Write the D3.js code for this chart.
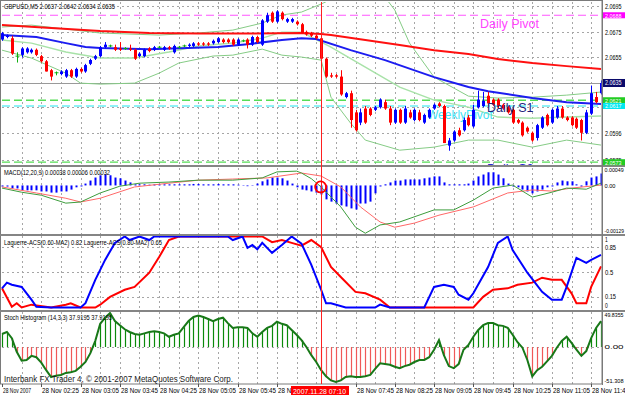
<!DOCTYPE html>
<html>
<head>
<meta charset="utf-8"/>
<title>GBPUSD M5</title>
<script src="https://d3js.org/d3.v7.min.js"></script>
<style>
  body { margin: 0; background: #fff; }
  svg { display: block; font-family: "Liberation Sans", Arial, sans-serif; }
</style>
</head>
<body>
<svg id="chart" width="625" height="395"></svg>
<script>
// candles, one per M5 bar from 01:45 to 11:55: [open, high, low, close]
const candles = [
  [2.0669,2.0675,2.0668,2.0674],[2.0671,2.0673,2.0670,2.0672],[2.0670,2.0672,2.0657,2.0658],[2.0656,2.0659,2.0651,2.0656],
  [2.0657,2.0663,2.0655,2.0662],[2.0659,2.0663,2.0658,2.0662],[2.0659,2.0662,2.0658,2.0661],[2.0661,2.0662,2.0656,2.0657],
  [2.0656,2.0657,2.0651,2.0652],[2.0652,2.0653,2.0644,2.0644],[2.0645,2.0646,2.0637,2.0640],[2.0643,2.0644,2.0641,2.0643],
  [2.0642,2.0645,2.0641,2.0644],[2.0640,2.0646,2.0639,2.0645],[2.0645,2.0646,2.0639,2.0640],[2.0640,2.0647,2.0639,2.0646],
  [2.0646,2.0647,2.0643,2.0644],[2.0644,2.0650,2.0643,2.0649],[2.0650,2.0654,2.0649,2.0653],[2.0654,2.0657,2.0653,2.0656],
  [2.0656,2.0664,2.0655,2.0663],[2.0663,2.0667,2.0662,2.0665],[2.0664,2.0665,2.0663,2.0664],[2.0663,2.0665,2.0660,2.0661],
  [2.0662,2.0667,2.0660,2.0661],[2.0662,2.0663,2.0661,2.0662],[2.0662,2.0665,2.0660,2.0661],[2.0661,2.0662,2.0653,2.0654],
  [2.0656,2.0659,2.0655,2.0658],[2.0656,2.0662,2.0655,2.0661],[2.0662,2.0663,2.0659,2.0660],[2.0661,2.0664,2.0660,2.0663],
  [2.0663,2.0664,2.0662,2.0663],[2.0661,2.0664,2.0660,2.0663],[2.0663,2.0664,2.0661,2.0662],[2.0659,2.0665,2.0658,2.0664],
  [2.0663,2.0664,2.0662,2.0663],[2.0664,2.0665,2.0663,2.0664],[2.0664,2.0666,2.0663,2.0665],[2.0664,2.0667,2.0663,2.0666],
  [2.0666,2.0667,2.0664,2.0665],[2.0666,2.0667,2.0664,2.0665],[2.0666,2.0667,2.0664,2.0665],[2.0666,2.0669,2.0665,2.0668],
  [2.0667,2.0671,2.0666,2.0670],[2.0669,2.0670,2.0666,2.0667],[2.0669,2.0670,2.0666,2.0667],[2.0669,2.0670,2.0664,2.0665],
  [2.0665,2.0670,2.0664,2.0669],[2.0668,2.0669,2.0667,2.0668],[2.0669,2.0670,2.0662,2.0665],[2.0665,2.0672,2.0664,2.0671],
  [2.0671,2.0672,2.0666,2.0667],[2.0665,2.0685,2.0664,2.0684],[2.0683,2.0690,2.0682,2.0688],[2.0690,2.0691,2.0682,2.0683],
  [2.0683,2.0692,2.0682,2.0691],[2.0690,2.0691,2.0684,2.0685],[2.0683,2.0686,2.0682,2.0685],[2.0683,2.0686,2.0682,2.0685],
  [2.0683,2.0684,2.0680,2.0681],[2.0681,2.0682,2.0674,2.0674],[2.0675,2.0676,2.0672,2.0673],[2.0674,2.0675,2.0671,2.0672],
  [2.0672,2.0673,2.0669,2.0670],[2.0670,2.0671,2.0653,2.0654],[2.0654,2.0655,2.0639,2.0640],[2.0641,2.0643,2.0639,2.0640],
  [2.0641,2.0642,2.0639,2.0640],[2.0640,2.0645,2.0625,2.0626],[2.0624,2.0628,2.0623,2.0627],[2.0627,2.0629,2.0600,2.0606],
  [2.0612,2.0614,2.0597,2.0598],[2.0604,2.0615,2.0602,2.0612],[2.0615,2.0617,2.0603,2.0604],[2.0615,2.0616,2.0609,2.0610],
  [2.0614,2.0617,2.0613,2.0616],[2.0616,2.0623,2.0615,2.0622],[2.0620,2.0622,2.0614,2.0615],[2.0615,2.0617,2.0602,2.0604],
  [2.0604,2.0615,2.0603,2.0614],[2.0614,2.0615,2.0603,2.0604],[2.0604,2.0617,2.0603,2.0615],[2.0612,2.0614,2.0607,2.0608],
  [2.0606,2.0615,2.0605,2.0614],[2.0612,2.0614,2.0605,2.0606],[2.0604,2.0611,2.0603,2.0610],[2.0608,2.0615,2.0607,2.0614],
  [2.0615,2.0619,2.0614,2.0618],[2.0619,2.0620,2.0616,2.0617],[2.0617,2.0618,2.0588,2.0588],[2.0586,2.0592,2.0582,2.0590],
  [2.0590,2.0598,2.0589,2.0597],[2.0598,2.0600,2.0593,2.0594],[2.0598,2.0608,2.0597,2.0606],[2.0608,2.0610,2.0601,2.0602],
  [2.0601,2.0618,2.0600,2.0614],[2.0616,2.0629,2.0615,2.0622],[2.0617,2.0628,2.0616,2.0621],[2.0625,2.0628,2.0617,2.0619],
  [2.0622,2.0623,2.0617,2.0618],[2.0622,2.0623,2.0615,2.0617],[2.0618,2.0619,2.0614,2.0615],[2.0616,2.0617,2.0611,2.0612],
  [2.0614,2.0615,2.0603,2.0604],[2.0606,2.0607,2.0603,2.0604],[2.0604,2.0605,2.0593,2.0594],[2.0600,2.0601,2.0596,2.0597],
  [2.0596,2.0597,2.0589,2.0590],[2.0592,2.0603,2.0590,2.0602],[2.0600,2.0609,2.0599,2.0608],[2.0610,2.0611,2.0601,2.0602],
  [2.0604,2.0615,2.0603,2.0614],[2.0608,2.0617,2.0607,2.0615],[2.0615,2.0617,2.0607,2.0608],[2.0608,2.0609,2.0605,2.0606],
  [2.0608,2.0609,2.0601,2.0602],[2.0607,2.0608,2.0599,2.0600],[2.0606,2.0607,2.0590,2.0596],[2.0596,2.0614,2.0595,2.0612],
  [2.0611,2.0633,2.0610,2.0627],[2.0624,2.0628,2.0619,2.0620],[2.0627,2.0637,2.0626,2.0635]
];

// moving averages and bollinger bands, read at bar indexes
const slowMaBars = [0,10,20,30,40,50,61,65,67,74,81,88,95,101,108,115,122];
const slowMa = [2.06803,2.06780,2.06756,2.06741,2.06737,2.06737,2.06741,2.06733,2.06725,2.06686,2.06647,2.06607,2.06576,2.06537,2.06506,2.06482,2.06459];
const fastMaBars = [0,7,13,17,20,30,44,50,57,61,64,71,78,88,95,99,108,115,122];
const fastMa = [2.06725,2.06709,2.06662,2.06631,2.06623,2.06615,2.06631,2.06654,2.06686,2.06701,2.06694,2.06607,2.06529,2.06396,2.06318,2.06286,2.06232,2.06200,2.06185];
const bandUpBars = [0,6,13,20,32,40,47,53,57,61,65,68,73,78,80,83,88,95,101,108,115,122];
const bandUp = [2.06788,2.06803,2.06772,2.06741,2.06725,2.06741,2.06764,2.06819,2.06882,2.06905,2.06968,2.07022,2.07062,2.07022,2.06921,2.06662,2.06396,2.06247,2.06232,2.06239,2.06255,2.06279];
const bandMidBars = [0,6,13,20,27,34,40,47,53,57,61,67,74,81,88,95,101,108,115,122];
const bandMid = [2.06686,2.06662,2.06592,2.06545,2.06545,2.06592,2.06639,2.06662,2.06701,2.06748,2.06748,2.06631,2.06474,2.06318,2.06216,2.06161,2.06083,2.06075,2.06083,2.06091];
const bandLowBars = [0,6,13,16,20,27,32,36,43,47,53,57,61,65,67,71,74,81,88,95,101,108,115,122];
const bandLow = [2.06607,2.06545,2.06427,2.06349,2.06341,2.06349,2.06427,2.06506,2.06561,2.06568,2.06615,2.06568,2.06553,2.06529,2.06239,2.06036,2.05903,2.05824,2.05848,2.05903,2.05903,2.05848,2.05903,2.05864];

// horizontal levels drawn on the price chart
const levelPrices = [2.0688, 2.06215, 2.0617, 2.0573];
const levelColors = ["#ff55ff", "#55dd55", "#22e6f0", "#55dd55"];
const levelBoxText = ["2.0688", "2.0621", "2.0617", "2.0573"];
const levelBoxFill = ["#ff00ff", "#22cc22", "#00e8f0", "#22cc22"];
const bidPrice = 2.0635;

const priceTicks = [2.0695, 2.0675, 2.0655, 2.0635, 2.0616, 2.0596, 2.0575];
const priceTickLabels = ["2.0695", "2.0675", "2.0655", "", "", "2.0596", "2.0575"];

// MACD (values in 0.00001)
const macdHist = [
  -3,-3,-8,-8,-13,-13,-13,-13,-16,-16, -19,-19,-16,-16,-11,-5,0,5,13,21,
  27,29,27,21,19,13,8,3,3,3, 2,3,3,3,3,3,3,3,3,4, 4,3,3,3,4,3,3,3,2,1,
  -2,-1,5,11,16,21,21,19,13,5, -5,-11,-13,-16,-19,-24,-37,-43,-48,-53,
  -56,-61,-64,-48,-48,-43,-21,0,3,8, 13,13,16,16,16,16,19,21,24,24,
  8,3,3,3,3,5,13,24,29,35, 35,29,19,5,-3,-5,-11,-16,-21,-16,
  -11,-5,0,8,13,11,11,3,-3,11, 21,24,32
];
const macdMainBars = [0,4,8,13,16,20,24,28,34,40,47,53,56,60,61,63,65,69,72,74,77,81,88,92,96,100,104,108,112,115,119,122];
const macdMain = [-7,-18,-26,-47,-44,-20,-2,6,9,14,14,20,36,38,33,18,-4,-57,-111,-127,-105,-97,-65,-65,-39,-7,1,-31,-18,-7,-10,6];
const macdSignalBars = [0,7,13,16,20,27,34,40,47,54,61,65,69,73,77,80,84,89,96,103,108,112,116,122];
const macdSignal = [-4,-20,-34,-44,-34,-4,6,14,17,20,33,25,-4,-57,-97,-111,-100,-79,-57,-20,-12,-15,-7,1];
const macdTicks = [49, 0, -129];
const macdTickLabels = ["0.00049", "0.00", "-0.00129"];

// Laguerre ACS
const lagFastBars = [0,1,2,4,6,7,10,16,17,19,21,23,25,26,28,30,31,46,47,49,50,51,52,53,55,57,59,61,63,65,66,67,70,76,77,79,86,88,90,92,93,95,96,99,101,103,104,107,110,112,114,115,117,119,120,122];
const lagFast = [0.27,0.35,0.32,0.29,0.11,0.01,0,0,0.06,0.39,0.67,0.91,1,0.95,1,0.95,1,1,0.95,1,0.84,0.88,0.82,0.91,0.77,0.88,1,0.9,0.6,0.25,0.06,0.06,0,0,0.04,0,0,0.29,0.32,0.29,0.18,0.11,0.2,0.57,0.91,1,0.81,0.49,0.22,0.11,0.11,0.29,0.7,0.63,0.67,0.74];
const lagSlowBars = [0,2,3,4,6,10,13,14,16,19,20,22,25,27,30,32,34,36,53,55,57,59,61,63,65,67,69,72,74,77,79,96,98,100,103,105,108,110,112,114,116,117,119,120,122];
const lagSlow = [0.27,0.01,0.06,0,0.04,0,0.04,0.06,0,0,0.04,0.15,0.25,0.29,0.49,0.71,0.95,1,1,0.92,0.95,0.91,0.87,0.95,0.85,0.57,0.43,0.22,0.2,0.11,0,0,0.15,0.25,0.27,0.32,0.35,0.42,0.39,0.39,0.2,0.06,0.06,0.29,0.58];
const lagTicks = [1, 0.85, 0.5, 0.15, 0];
const lagTickLabels = ["1", "0.85", "0.5", "0.15", "0"];

// Stoch histogram
const stochHist = [
  19,22,13,-7,-20,-19,-13,-15,-23,-34, -44,-42,-41,-38,-37,-35,-29,-22,-9,9,
  34,43,49.8,38,32,26,22,19,18,20, 22,23,22,20,15,18,20,29,38,44,
  46,44,41,38,41,43,35,28,29,29, 28,20,15,22,28,31,37,34,32,25,
  18,10,0,-12,-22,-34,-43,-49,-51.3,-49, -44,-43,-44,-44,-43,-41,-32,-24,-25,-26,
  -29,-31,-28,-26,-22,-19,-19,-15,-4,10, -12,-28,-31,-25,-4,3,15,25,32,35,
  35,32,31,28,18,7,-1,-19,-43,-34, -29,-21,-13,-1,9,15,6,-4,-13,-6,
  13,28,37.92
];
const stochTicks = [49.8355, 0, -51.308];
const stochTickLabels = ["49.8355", "0.00", "-51.308"];

// time axis, one label every 8 bars
const timeLabels = ["28 Nov 2007","28 Nov 02:25","28 Nov 03:05","28 Nov 03:45","28 Nov 04:25","28 Nov 05:05",
  "28 Nov 05:45","28 Nov 06:25","28 Nov 07:05","28 Nov 07:45","28 Nov 08:25","28 Nov 09:05","28 Nov 09:45",
  "28 Nov 10:25","28 Nov 11:05","28 Nov 11:45"];
const markerBar = 65;
const markerLabel = "2007.11.28 07:10";

const svg = d3.select("#chart");
const plotR = 602;

const x = d3.scaleLinear().domain([0, 122]).range([2, 601]);
const yPrice = d3.scaleLinear().domain([2.05716, 2.06976]).range([164, 3]);
const yMacd = d3.scaleLinear().domain([-129, 49]).range([234, 167]);
const yLag = d3.scaleLinear().domain([0, 1]).range([307.5, 236.5]);
const yStoch = d3.scaleLinear().domain([-51.308, 49.8355]).range([382, 313]);

const panels = [
  {id: "cMain", top: 2, bottom: 165},
  {id: "cMacd", top: 168, bottom: 234},
  {id: "cLag", top: 236, bottom: 310},
  {id: "cStoch", top: 312, bottom: 384}
];
const defs = svg.append("defs");
panels.forEach(p => {
  defs.append("clipPath").attr("id", p.id)
    .append("rect").attr("x", 1).attr("y", p.top).attr("width", plotR - 1).attr("height", p.bottom - p.top);
});

// marker box on the time axis hides the labels under it
const mx = Math.round(x(markerBar));
const boxL = mx - 30, boxR = mx + 28;
defs.append("clipPath").attr("id", "cTime")
  .append("rect").attr("x", 0).attr("y", 384).attr("width", boxL).attr("height", 11);

svg.append("rect").attr("width", 625).attr("height", 395).attr("fill", "#fff");

// grid
const grid = svg.append("g").attr("stroke", "#a6a6a6").attr("stroke-dasharray", "2,3").attr("stroke-width", 1);
d3.range(4, 123, 4).forEach(b => {
  panels.forEach(p => {
    grid.append("line").attr("x1", Math.round(x(b)) + 0.5).attr("x2", Math.round(x(b)) + 0.5)
      .attr("y1", p.top).attr("y2", p.bottom);
  });
});
priceTicks.forEach(v => {
  grid.append("line").attr("x1", 2).attr("x2", plotR).attr("y1", Math.round(yPrice(v)) + 0.5).attr("y2", Math.round(yPrice(v)) + 0.5);
});
[0.85, 0.5, 0.15].forEach(v => {
  grid.append("line").attr("x1", 2).attr("x2", plotR).attr("y1", Math.round(yLag(v)) + 0.5).attr("y2", Math.round(yLag(v)) + 0.5);
});
grid.append("line").attr("x1", 2).attr("x2", plotR).attr("y1", Math.round(yStoch(0)) + 0.5).attr("y2", Math.round(yStoch(0)) + 0.5);

// ---- main price window ----
const main = svg.append("g").attr("clip-path", "url(#cMain)");

const lineOf = (bars, vals, ys) => d3.line().x((d, i) => x(bars[i])).y(d => ys(d))(vals);

// pivot levels
levelPrices.forEach((v, i) => {
  main.append("line").attr("x1", 2).attr("x2", plotR).attr("y1", yPrice(v)).attr("y2", yPrice(v))
    .attr("stroke", levelColors[i]).attr("stroke-width", i === 1 ? 1.5 : 1.2).attr("stroke-dasharray", "8,4");
});
// bid line
main.append("line").attr("x1", 2).attr("x2", plotR).attr("y1", Math.round(yPrice(bidPrice)) + 0.5)
  .attr("y2", Math.round(yPrice(bidPrice)) + 0.5).attr("stroke", "#9a9a9a").attr("stroke-width", 1);

// bollinger
main.append("path").attr("d", lineOf(bandUpBars, bandUp, yPrice)).attr("fill", "none").attr("stroke", "#86cc86").attr("stroke-width", 1);
main.append("path").attr("d", lineOf(bandMidBars, bandMid, yPrice)).attr("fill", "none").attr("stroke", "#a8e2a8").attr("stroke-width", 1.5);
main.append("path").attr("d", lineOf(bandLowBars, bandLow, yPrice)).attr("fill", "none").attr("stroke", "#86cc86").attr("stroke-width", 1);

// moving averages
main.append("path").attr("d", lineOf(slowMaBars, slowMa, yPrice)).attr("fill", "none").attr("stroke", "#ff1010").attr("stroke-width", 2);
main.append("path").attr("d", lineOf(fastMaBars, fastMa, yPrice)).attr("fill", "none").attr("stroke", "#1c1cf0").attr("stroke-width", 2);

// text objects
main.append("text").attr("x", 480).attr("y", yPrice(2.0678)).attr("font-size", 12.5).attr("fill", "#ff44ff").text("Daily Pivot");
main.append("text").attr("x", 427).attr("y", yPrice(2.0607)).attr("font-size", 12).attr("fill", "#3fe3f5").text("WeeklyPivot");

// candles
const candleColor = d => d[0] === d[3] ? "#10b010" : (d[3] > d[0] ? "#0000ff" : "#ff0000");
const cg = main.append("g");
candles.forEach((d, i) => {
  const cx = Math.round(x(i)) + 0.5;
  const col = candleColor(d);
  cg.append("line").attr("x1", cx).attr("x2", cx).attr("y1", yPrice(d[1])).attr("y2", yPrice(d[2]))
    .attr("stroke", col).attr("stroke-width", 1);
  const top = yPrice(Math.max(d[0], d[3]));
  const bot = yPrice(Math.min(d[0], d[3]));
  if (d[0] === d[3]) {
    cg.append("line").attr("x1", cx - 2).attr("x2", cx + 2).attr("y1", top).attr("y2", top)
      .attr("stroke", col).attr("stroke-width", 1);
  } else {
    cg.append("rect").attr("x", cx - 1.5).attr("y", top).attr("width", 3).attr("height", Math.max(1, bot - top))
      .attr("fill", col);
  }
});

main.append("text").attr("x", 487).attr("y", yPrice(2.0612)).attr("font-size", 12.5).attr("fill", "#23237a").text("Daily S1");
main.append("text").attr("x", 487).attr("y", 173).attr("font-size", 12.5).attr("fill", "#2a2ad0").text("Daily S2");

// ---- MACD window ----
const macd = svg.append("g").attr("clip-path", "url(#cMacd)");
macdHist.forEach((v, i) => {
  const cx = Math.round(x(i)) + 0.5;
  macd.append("line").attr("x1", cx).attr("x2", cx).attr("y1", yMacd(0)).attr("y2", v === 0 ? yMacd(0) + 1 : yMacd(v))
    .attr("stroke", "#0000ff").attr("stroke-width", 2);
});
macd.append("path").attr("d", lineOf(macdSignalBars, macdSignal, yMacd)).attr("fill", "none").attr("stroke", "#ff6868").attr("stroke-width", 1);
macd.append("path").attr("d", lineOf(macdMainBars, macdMain, yMacd)).attr("fill", "none").attr("stroke", "#3d9d3d").attr("stroke-width", 1);

// ---- Laguerre window ----
const lag = svg.append("g").attr("clip-path", "url(#cLag)");
lag.append("path").attr("d", lineOf(lagSlowBars, lagSlow, yLag)).attr("fill", "none").attr("stroke", "#ff0000").attr("stroke-width", 2);
lag.append("path").attr("d", lineOf(lagFastBars, lagFast, yLag)).attr("fill", "none").attr("stroke", "#0000ff").attr("stroke-width", 2);

// ---- Stoch histogram window ----
const st = svg.append("g").attr("clip-path", "url(#cStoch)");
stochHist.forEach((v, i) => {
  const cx = Math.round(x(i)) + 0.5;
  st.append("line").attr("x1", cx).attr("x2", cx).attr("y1", yStoch(0)).attr("y2", yStoch(v))
    .attr("stroke", v >= 0 ? "#0a8a0a" : "#f05858").attr("stroke-width", 1.2);
});
st.append("path").attr("d", d3.line().x((d, i) => x(i)).y(d => yStoch(d))(stochHist))
  .attr("fill", "none").attr("stroke", "#187818").attr("stroke-width", 2);

// ---- frame, separators, marker ----
const frame = svg.append("g");
frame.append("rect").attr("x", 0.5).attr("y", 0.5).attr("width", plotR - 0.5).attr("height", 383.5)
  .attr("fill", "none").attr("stroke", "#7a7a7a");
[166, 235, 311].forEach(y => {
  frame.append("rect").attr("x", 0).attr("y", y - 1).attr("width", 625).attr("height", 2).attr("fill", "#858585");
});
frame.append("line").attr("x1", plotR + 0.5).attr("x2", plotR + 0.5).attr("y1", 0).attr("y2", 385).attr("stroke", "#7a7a7a");

svg.append("line").attr("x1", mx + 0.5).attr("x2", mx + 0.5)
  .attr("y1", 2).attr("y2", 384).attr("stroke", "#ff2020").attr("stroke-width", 1);
svg.append("circle").attr("cx", x(markerBar) - 0.5).attr("cy", yMacd(-4)).attr("r", 5.5)
  .attr("fill", "none").attr("stroke", "#ff0000").attr("stroke-width", 1.8);

// ---- labels ----
const small = (g, xPos, yPos, str, len, color, size) => g.append("text").attr("x", xPos).attr("y", yPos)
  .attr("font-size", size || 7).attr("fill", color || "#000").attr("textLength", len).attr("lengthAdjust", "spacingAndGlyphs").text(str);

small(svg, 4, 9, "GBPUSD,M5  2.0637 2.0642 2.0634 2.0635", 111, "#000", 7.5);
small(svg, 4, 175, "MACD(12,20,9) 0.00038 0.00006 0.00032", 106, "#000", 7.5);
small(svg, 4, 245, "Laguerre-ACS(0.60-MA2) 0.82  Laguerre-ACS(0.80-MA2) 0.65", 158, "#000", 7.5);
small(svg, 4, 320, "Stoch Histogram (14,3,3) 37.9195 37.9195", 108, "#000", 7.5);

svg.append("text").attr("x", 4).attr("y", 382).attr("font-size", 9.5).attr("fill", "#1a1a1a")
  .attr("textLength", 229).attr("lengthAdjust", "spacingAndGlyphs")
  .text("Interbank FX Trader 4, \u00a9 2001-2007 MetaQuotes Software Corp.");

// right scale labels
const ax = svg.append("g");
priceTicks.forEach((v, i) => {
  if (priceTickLabels[i]) small(ax, 605, Math.round(yPrice(v)) + 2.5, priceTickLabels[i], 16.5, "#000", 6.5);
});
macdTicks.forEach((v, i) => {
  const yy = i === 0 ? 172 : (i === 2 ? 233 : yMacd(v) + 2.5);
  small(ax, 604.5, yy, macdTickLabels[i], Math.min(19.5, macdTickLabels[i].length * 2.75), "#000", 6);
});
lagTicks.forEach((v, i) => {
  const yy = i === 0 ? 242 : (i === 4 ? 308 : yLag(v) + 2.5);
  small(ax, 605, yy, lagTickLabels[i], lagTickLabels[i].length * 2.75, "#000", 6.5);
});
stochTicks.forEach((v, i) => {
  const yy = i === 0 ? 317 : (i === 2 ? 383 : yStoch(v) + 2.5);
  small(ax, 604.5, yy, stochTickLabels[i], 19, "#000", 6);
});

// level boxes on the price scale
levelPrices.forEach((v, i) => {
  const yy = yPrice(v);
  ax.append("rect").attr("x", plotR + 1).attr("y", yy - 3).attr("width", 25).attr("height", 6).attr("fill", levelBoxFill[i]);
  small(ax, 605, yy + 2.3, levelBoxText[i], 16.5, "#fff", 6);
});
ax.append("rect").attr("x", plotR + 1).attr("y", yPrice(bidPrice) - 4).attr("width", 25).attr("height", 8).attr("fill", "#0a0a6a");
small(ax, 605, yPrice(bidPrice) + 2.5, "2.0635", 16.5, "#fff", 6.5);

// time axis
const tg = svg.append("g");
const tClip = svg.append("g").attr("clip-path", "url(#cTime)");
timeLabels.forEach((s, k) => {
  const xx = Math.round(x(k * 8));
  if (xx + 1 >= boxL && xx + 1 <= boxR) return; // fully under the marker box
  tg.append("line").attr("x1", xx + 0.5).attr("x2", xx + 0.5).attr("y1", 384).attr("y2", 387).attr("stroke", "#555");
  const g = (xx + 38 > boxL && xx < boxL) ? tClip : tg;
  small(g, xx + 1, 393, s, k === 0 ? 28 : 37);
});
tg.append("rect").attr("x", boxL).attr("y", 386).attr("width", boxR - boxL).attr("height", 9).attr("fill", "#ff0000");
small(tg, boxL + 2, 393.5, markerLabel, 53, "#fff");
</script>
</body>
</html>
